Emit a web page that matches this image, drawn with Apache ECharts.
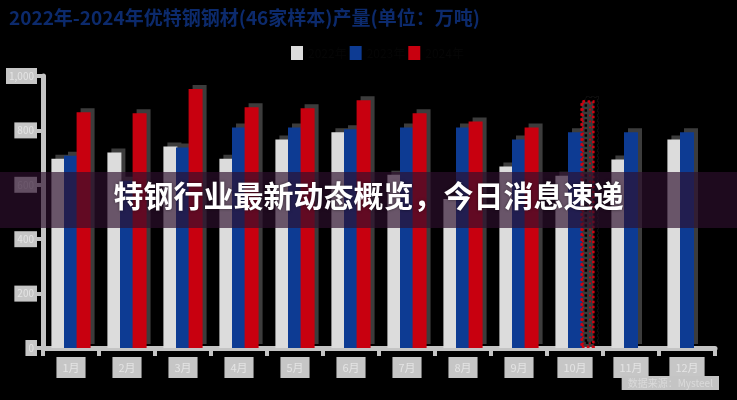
<!DOCTYPE html>
<html>
<head>
<meta charset="utf-8">
<script src="https://cdn.jsdelivr.net/npm/echarts@6/dist/echarts.min.js"></script>
<style>
html,body{margin:0;padding:0;background:#000;}
#c{width:737px;height:400px;}
</style>
</head>
<body>
<div id="c"></div>
<script>
const titleText = '2022年-2024年优特钢钢材(46家样本)产量(单位：万吨)';
const bannerText = '特钢行业最新动态概览，今日消息速递';
const sourceText = '数据来源：Mysteel';
const categories = ['1月','2月','3月','4月','5月','6月','7月','8月','9月','10月','11月','12月'];
const seriesNames = ['2022年','2023年','2024年'];
const yTicks = [0, 200, 400, 600, 800, 1000];
const values2022 = [696, 719, 741, 696, 767, 793, 637, 548, 667, 633, 693, 767];
const values2023 = [707, 615, 737, 811, 811, 804, 811, 811, 767, 793, 793, 793];
const values2024 = [867, 863, 952, 885, 881, 911, 863, 833, 811, 911, null, null];
const estimatedIndex = 9;

const colors = ['#dcdcdc', '#0d3b93', '#c8000f'];
const shadow = {shadowColor:'#3c3c3c', shadowOffsetX:4, shadowOffsetY:-4, shadowBlur:0};

const chart = echarts.init(document.getElementById('c'), null, {renderer:'canvas'});
const data2024 = values2024.map((v,i)=> i===estimatedIndex ? {
  value: v,
  itemStyle: {color:'#3a3a3a', borderColor:'#d4000f', borderType:'dotted', borderWidth:2.5,
    decal:{symbol:'circle', symbolSize:0.7, color:'#c8000f', backgroundColor:'#3a3a3a', dashArrayX:[4,3], dashArrayY:[3,3]}}
} : v);

chart.setOption({
  backgroundColor:'#000',
  animation:false,
  aria:{enabled:false},
  title:{text:titleText, left:4, top:3,
    textStyle:{color:'#0c2a6c', fontSize:19, fontWeight:'bold', fontFamily:'Noto Sans CJK SC'}},
  legend:{data:seriesNames, left:286, top:41, itemWidth:12, itemHeight:14, itemGap:3, icon:'rect',
    textStyle:{color:'#060606', fontSize:12, fontFamily:'Noto Sans CJK SC'}},
  grid:{left:43, right:22, top:76, bottom:52},
  xAxis:{type:'category', data:categories,
    axisLine:{lineStyle:{color:'#c4c4c4', width:5}},
    axisTick:{show:true, length:8, lineStyle:{color:'#c4c4c4', width:4}},
    axisLabel:{color:'#e4e4e4', backgroundColor:'#c6c6c6', padding:[5,6], fontSize:11, margin:9,
      fontFamily:'Noto Sans CJK SC'}},
  yAxis:{type:'value', min:yTicks[0], max:yTicks[yTicks.length-1], interval:yTicks[1]-yTicks[0],
    splitLine:{show:false},
    axisLine:{show:true, lineStyle:{color:'#c4c4c4', width:5}},
    axisTick:{show:true, length:8, lineStyle:{color:'#c4c4c4', width:4}},
    axisLabel:{color:'#e4e4e4', backgroundColor:'#c6c6c6', padding:[3,3], fontSize:10, margin:6,
      fontFamily:'Noto Sans CJK SC'}},
  series:[
    {name:seriesNames[0], type:'bar', data:values2022, barWidth:14, barGap:'-10%',
      itemStyle:Object.assign({color:colors[0]}, shadow)},
    {name:seriesNames[1], type:'bar', data:values2023, barWidth:14, barGap:'-10%',
      itemStyle:Object.assign({color:colors[1]}, shadow)},
    {name:seriesNames[2], type:'bar', data:data2024, barWidth:14, barGap:'-10%',
      itemStyle:Object.assign({color:colors[2]}, shadow)}
  ],
  graphic:[
    {type:'text', right:18, bottom:10, z:100,
      style:{text:sourceText, fill:'#dadada', backgroundColor:'#c4c4c4', padding:[2,6], fontSize:10,
        fontFamily:'Noto Sans CJK SC'}},
    {type:'rect', left:0, top:172, z:200, shape:{width:737, height:56},
      style:{fill:'rgba(46,15,46,0.66)'}},
    {type:'text', left:'center', top:181, z:201,
      style:{text:bannerText, fill:'#ffffff', fontSize:30, fontWeight:'bold',
        fontFamily:'Noto Sans CJK SC', textShadowColor:'rgba(0,0,0,0.5)', textShadowBlur:3}}
  ]
});
</script>
</body>
</html>
